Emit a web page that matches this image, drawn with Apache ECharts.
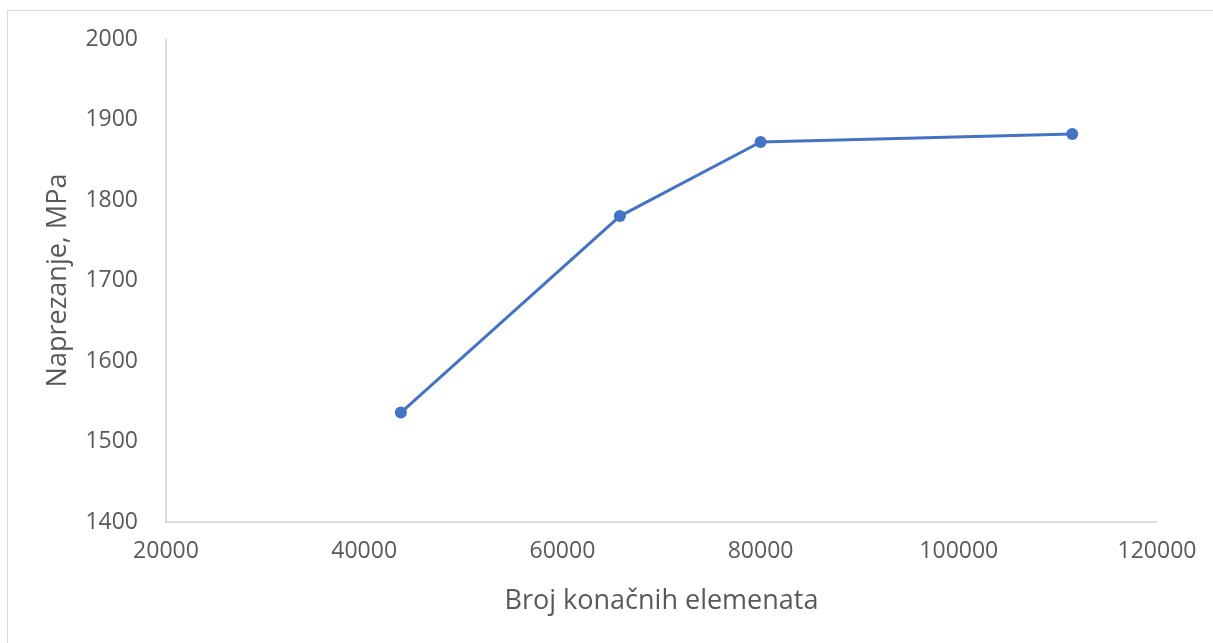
<!DOCTYPE html>
<html>
<head>
<meta charset="utf-8">
<script src="https://cdn.jsdelivr.net/npm/echarts@6/dist/echarts.min.js"></script>
<style>
  html, body { margin: 0; padding: 0; background: #fff; }
  #frame {
    position: absolute; left: 7px; top: 10px; width: 1300px; height: 700px;
    border-top: 1px solid #d9d9d9; border-left: 1px solid #d9d9d9;
  }
  #chart { position: absolute; left: 0; top: 0; width: 1213px; height: 643px; }
</style>
</head>
<body>
<div id="frame"></div>
<div id="chart"></div>
<script>
// broj elemenata i naprezanje (MPa)
const elementCounts = [43700, 65800, 80000, 111450];
const stressValues = [1536, 1780, 1872, 1882];

const xTitle = 'Broj konačnih elemenata';
const yTitle = 'Naprezanje, MPa';

const FONT = '"Open Sans", "Liberation Sans", sans-serif';
const TEXT_COLOR = '#595959';

const myChart = echarts.init(document.getElementById('chart'));

const option = {
  animation: false,
  grid: { left: 166, right: 56, top: 39, bottom: 121, containLabel: false },
  xAxis: {
    type: 'value',
    min: 20000,
    max: 120000,
    interval: 20000,
    name: xTitle,
    nameLocation: 'middle',
    nameGap: 66,
    nameTextStyle: { color: TEXT_COLOR, fontSize: 27, fontFamily: FONT },
    axisLine: { show: true, lineStyle: { color: '#d0d0d0', width: 1.5 } },
    axisTick: { show: false },
    splitLine: { show: false },
    axisLabel: {
      color: TEXT_COLOR, fontSize: 23, fontFamily: FONT, margin: 18,
      formatter: (v) => String(v)
    }
  },
  yAxis: {
    type: 'value',
    min: 1400,
    max: 2000,
    interval: 100,
    name: yTitle,
    nameLocation: 'middle',
    nameGap: 94,
    nameTextStyle: { color: TEXT_COLOR, fontSize: 27, fontFamily: FONT },
    axisLine: { show: true, lineStyle: { color: '#d0d0d0', width: 1.5 } },
    axisTick: { show: false },
    splitLine: { show: false },
    axisLabel: {
      color: TEXT_COLOR, fontSize: 23, fontFamily: FONT, margin: 28,
      formatter: (v) => String(v)
    }
  },
  series: [
    {
      type: 'line',
      data: elementCounts.map((x, i) => [x, stressValues[i]]),
      symbol: 'circle',
      symbolSize: 12,
      lineStyle: { color: '#4472C4', width: 3 },
      itemStyle: { color: '#4472C4' }
    }
  ]
};

myChart.setOption(option);
</script>
</body>
</html>
